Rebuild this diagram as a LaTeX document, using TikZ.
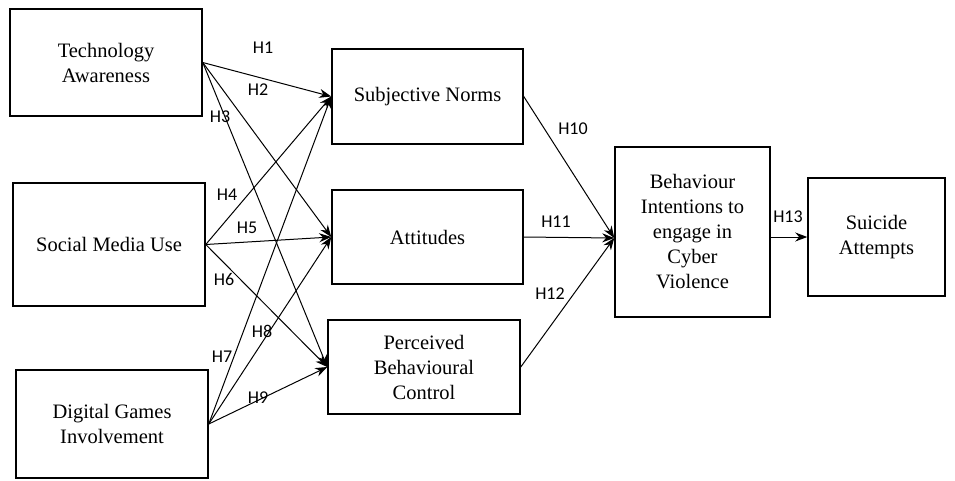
\documentclass[tikz,border=0pt]{standalone}
\usepackage{fontspec}
\setmainfont{Liberation Serif}
\newfontfamily\hypfont{Carlito}
\usetikzlibrary{arrows.meta}
\begin{document}
\begin{tikzpicture}[x=1pt,y=-1pt,
  box/.style={draw,line width=1.5pt,align=center,inner sep=0pt,font=\fontsize{20.5}{25}\selectfont},
  arr/.style={line width=1pt,-{Stealth[length=12pt,width=9pt]}},
  hyp/.style={font=\hypfont\fontsize{18}{20}\selectfont,inner sep=0pt}]
\useasboundingbox (0,0) rectangle (955,480);

\node[box,minimum width=192pt,minimum height=107pt] (TA) at (106,62.5) {Technology\\Awareness};
\node[box,minimum width=192pt,minimum height=123pt] (SMU) at (109,244.5) {Social Media Use};
\node[box,minimum width=192pt,minimum height=108pt] (DGI) at (112,424) {Digital Games\\Involvement};

\node[box,minimum width=191pt,minimum height=95pt] (SN) at (427.5,96.5) {Subjective Norms};
\node[box,minimum width=191pt,minimum height=94pt] (ATT) at (427.5,237) {Attitudes};
\node[box,minimum width=192pt,minimum height=94pt] (PBC) at (424,367) {Perceived\\Behavioural\\Control};

\node[box,minimum width=155pt,minimum height=170pt] (BI) at (692.5,232) {Behaviour\\Intentions to\\engage in\\Cyber\\Violence};
\node[box,minimum width=137pt,minimum height=118pt] (SA) at (876.5,237) {Suicide\\Attempts};
\coordinate (BIin) at ([yshift=-6pt]BI.west);

\draw[arr] (TA.east) -- (SN.west);
\draw[arr] (TA.east) -- (ATT.west);
\draw[arr] (TA.east) -- (PBC.west);
\draw[arr] (SMU.east) -- (SN.west);
\draw[arr] (SMU.east) -- (ATT.west);
\draw[arr] (SMU.east) -- (PBC.west);
\draw[arr] (DGI.east) -- (SN.west);
\draw[arr] (DGI.east) -- (ATT.west);
\draw[arr] (DGI.east) -- (PBC.west);

\draw[arr] (SN.east) -- (BIin);
\draw[arr] (ATT.east) -- (BIin);
\draw[arr] (PBC.east) -- (BIin);
\draw[arr] (SA.west -| BI.east) -- (SA.west);

\node[hyp] (h1) at (263,48) {H1};
\node[hyp] (h2) at (258,90) {H2};
\node[hyp] (h3) at (220,117) {H3};
\node[hyp] (h4) at (227,195) {H4};
\node[hyp] (h5) at (247,228) {H5};
\node[hyp] (h6) at (224,279) {H6};
\node[hyp] (h7) at (222,357) {H7};
\node[hyp] (h8) at (262,331) {H8};
\node[hyp] (h9) at (258,398) {H9};
\node[hyp] (h10) at (573,129) {H10};
\node[hyp] (h11) at (556,222) {H11};
\node[hyp] (h12) at (550,294) {H12};
\node[hyp] (h13) at (788,217) {H13};
\end{tikzpicture}
\end{document}
